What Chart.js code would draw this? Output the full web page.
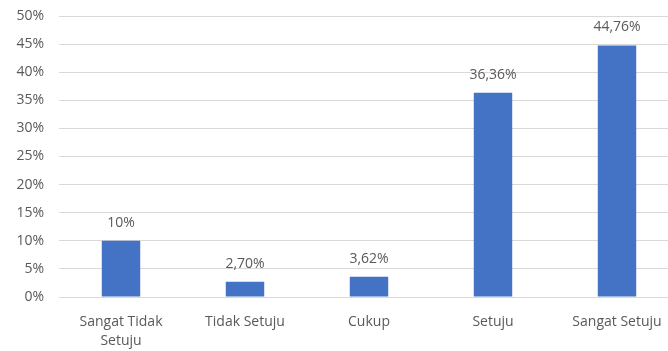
<!DOCTYPE html>
<html>
<head>
<meta charset="utf-8">
<script src="https://cdn.jsdelivr.net/npm/chart.js@4"></script>
<style>
  html, body { margin: 0; padding: 0; background: #fff; overflow: hidden; }
  #wrap { width: 679px; height: 351px; }
</style>
</head>
<body>
<div id="wrap"><canvas id="chart"></canvas></div>
<script>
const CATEGORIES = [["Sangat Tidak", "Setuju"], "Tidak Setuju", "Cukup", "Setuju", "Sangat Setuju"];
const VALUES = [10, 2.70, 3.62, 36.36, 44.76];
const VALUE_LABELS = ["10%", "2,70%", "3,62%", "36,36%", "44,76%"];
const Y_MAX = 50;
const Y_STEP = 5;

const FONT = "'Open Sans', 'Noto Sans', sans-serif";
const TEXT_COLOR = "#595959";

// draw value labels above each bar
const valueLabels = {
    id: "valueLabels",
    afterDatasetsDraw(chart) {
        const ctx = chart.ctx;
        const meta = chart.getDatasetMeta(0);
        ctx.save();
        ctx.font = "14px " + FONT;
        ctx.fillStyle = TEXT_COLOR;
        ctx.textAlign = "center";
        ctx.textBaseline = "bottom";
        meta.data.forEach((bar, i) => {
            ctx.fillText(VALUE_LABELS[i], bar.x, bar.y - 11);
        });
        ctx.restore();
    }
};

const ctx = document.getElementById("chart").getContext("2d");
new Chart(ctx, {
    type: "bar",
    data: {
        labels: CATEGORIES,
        datasets: [{
            data: VALUES,
            backgroundColor: "#4472C4",
            barPercentage: 0.31,
            categoryPercentage: 1.0
        }]
    },
    options: {
        responsive: true,
        maintainAspectRatio: false,
        animation: false,
        layout: { padding: { top: 16, left: 0, right: 0, bottom: 0 } },
        plugins: {
            legend: { display: false },
            tooltip: { enabled: false }
        },
        scales: {
            x: {
                grid: { display: false, drawTicks: false },
                border: { display: false },
                ticks: {
                    color: TEXT_COLOR,
                    font: { family: FONT, size: 14, lineHeight: 1.4 },
                    padding: 15,
                    maxRotation: 0
                },
                afterFit: s => { s.height = 54; }
            },
            y: {
                min: 0,
                max: Y_MAX,
                grid: { color: "#d9d9d9", drawTicks: false, lineWidth: 1 },
                border: { display: false },
                ticks: {
                    stepSize: Y_STEP,
                    color: TEXT_COLOR,
                    font: { family: FONT, size: 14 },
                    padding: 15,
                    callback: v => v + "%"
                },
                afterFit: s => { s.width = 59; s.paddingTop = 0; s.paddingBottom = 0; }
            }
        }
    },
    plugins: [valueLabels]
});
</script>
</body>
</html>
